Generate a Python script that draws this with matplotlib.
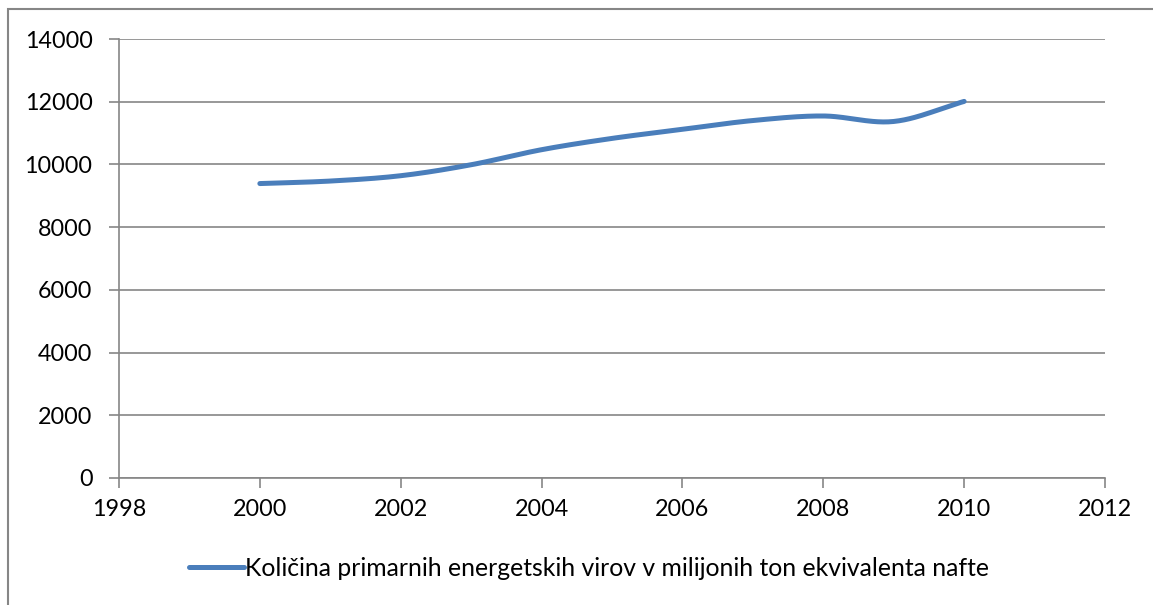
import matplotlib
matplotlib.use("Agg")
import matplotlib.pyplot as plt
import numpy as np
from matplotlib.patches import Rectangle

years = [2000, 2001, 2002, 2003, 2004, 2005, 2006, 2007, 2008, 2009, 2010]
values = [9390, 9470, 9640, 9990, 10470, 10830, 11120, 11400, 11545, 11370, 12010]
series_label = "Količina primarnih energetskih virov v milijonih ton ekvivalenta nafte"
x_ticks = [1998, 2000, 2002, 2004, 2006, 2008, 2010, 2012]
y_ticks = [0, 2000, 4000, 6000, 8000, 10000, 12000, 14000]

W, H = 1153, 605
fig = plt.figure(figsize=(W / 100, H / 100), dpi=100)
plt.rcParams['font.family'] = ['Lato', 'DejaVu Sans']

ax = fig.add_axes([119 / W, 1 - 478 / H, (1105 - 119) / W, (478 - 39) / H])


def smooth(x, y, n=40):
    x = np.asarray(x, float)
    y = np.asarray(y, float)
    px = np.concatenate([[2 * x[0] - x[1]], x, [2 * x[-1] - x[-2]]])
    py = np.concatenate([[2 * y[0] - y[1]], y, [2 * y[-1] - y[-2]]])
    xs, ys = [], []
    for i in range(1, len(px) - 2):
        t = np.linspace(0, 1, n, endpoint=False)
        p0, p1, p2, p3 = (np.array([px[j], py[j]]) for j in (i - 1, i, i + 1, i + 2))
        c1 = p1 + (p2 - p0) / 6
        c2 = p2 - (p3 - p1) / 6
        tt = t[:, None]
        pts = ((1 - tt) ** 3) * p1 + 3 * ((1 - tt) ** 2) * tt * c1 + 3 * (1 - tt) * tt ** 2 * c2 + tt ** 3 * p2
        xs.extend(pts[:, 0])
        ys.extend(pts[:, 1])
    xs.append(x[-1])
    ys.append(y[-1])
    return np.array(xs), np.array(ys)


sx, sy = smooth(years, values)
line, = ax.plot(sx, sy, color='#4A7EBB', lw=3.6, solid_capstyle='round',
                label=series_label, zorder=3)

ax.set_xlim(1998, 2012)
ax.set_ylim(0, 14000)
ax.set_xticks(x_ticks)
ax.set_yticks(y_ticks)
ax.set_xticklabels([str(v) for v in x_ticks])
ax.set_yticklabels([str(v) for v in y_ticks])
ax.yaxis.grid(True, color='#868686', lw=1.2, zorder=0)
ax.set_axisbelow(True)
for s in ['top', 'right']:
    ax.spines[s].set_visible(False)
for s in ['left', 'bottom']:
    ax.spines[s].set_color('#868686')
    ax.spines[s].set_linewidth(1.2)
ax.tick_params(axis='both', direction='out', length=7, width=1.2, color='#868686',
               labelsize=16.8, labelcolor='black')
ax.tick_params(axis='y', pad=12)
ax.tick_params(axis='x', pad=8)

leg = fig.legend(handles=[line], loc='center', bbox_to_anchor=(589 / W, 1 - 568 / H),
                 frameon=False, fontsize=17.8, handlelength=2.2, handletextpad=0.05,
                 borderpad=0)

fig.patches.append(Rectangle((8 / W, -0.05), 1.1, 1 - 9 / H + 0.05, transform=fig.transFigure,
                             fill=False, edgecolor='#868686', lw=1.5, zorder=0))

fig.savefig('out.png', dpi=100)
